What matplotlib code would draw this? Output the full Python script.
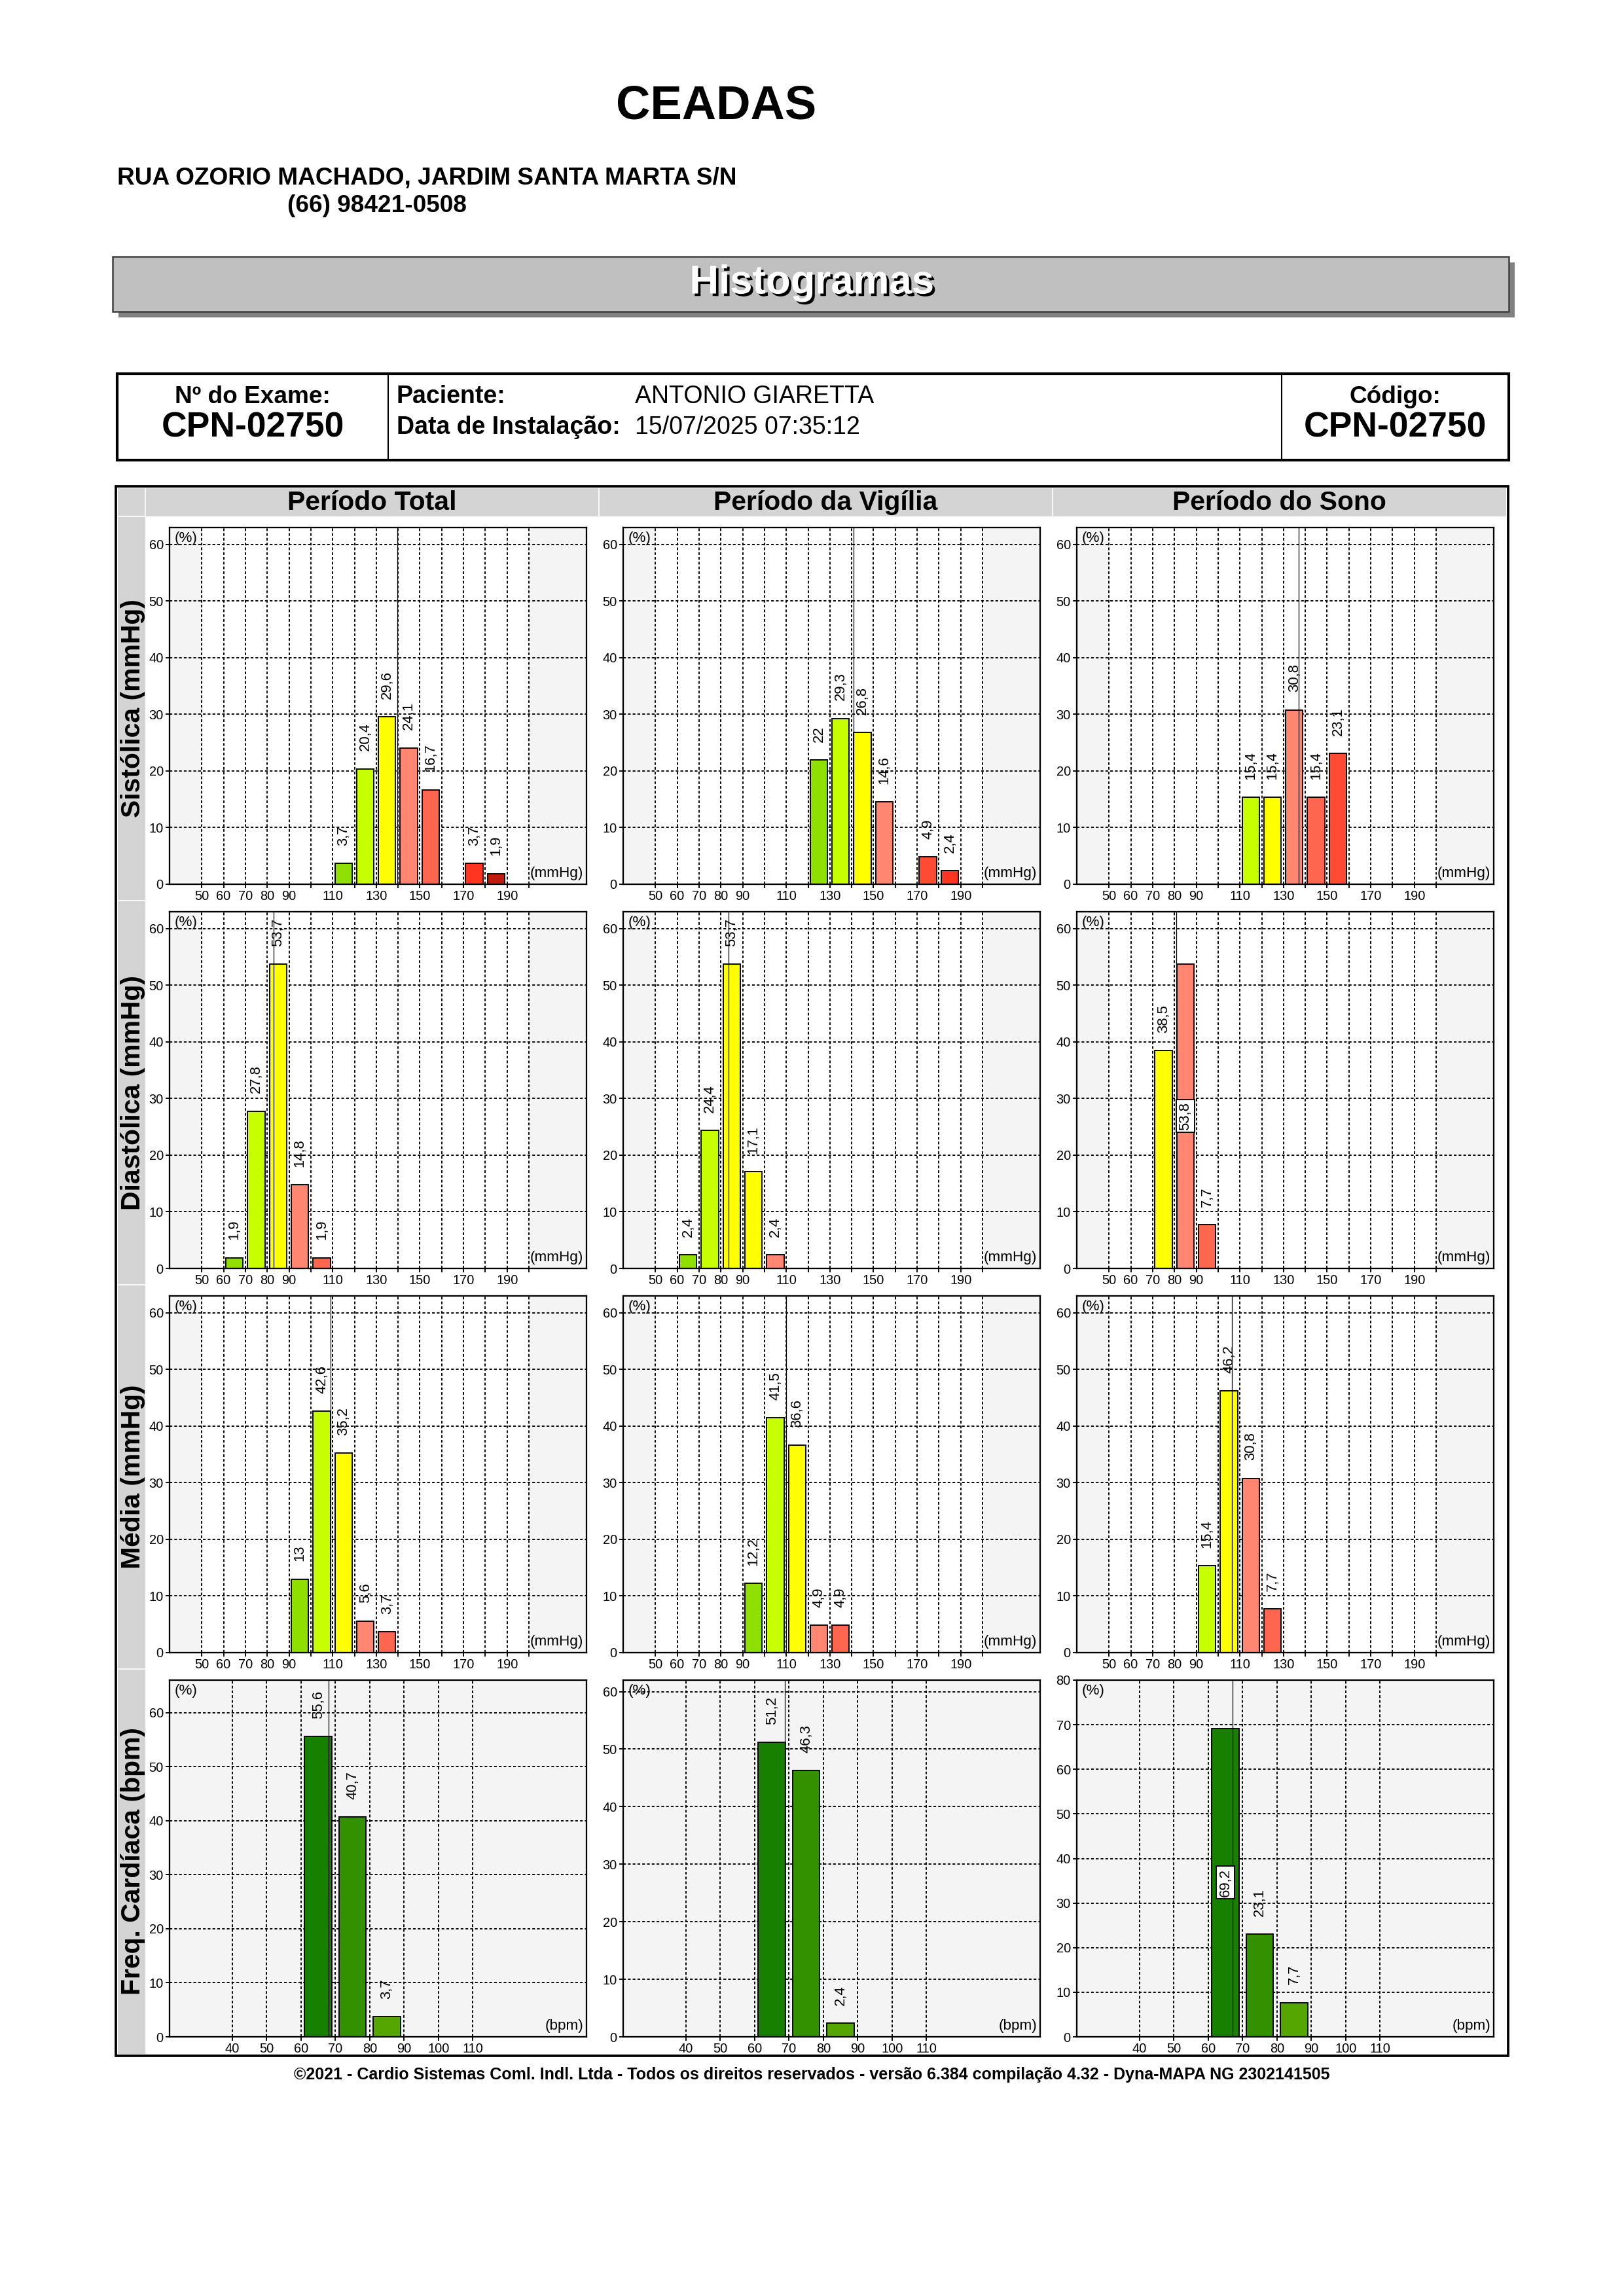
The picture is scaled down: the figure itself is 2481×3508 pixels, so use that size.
import numpy as np
import matplotlib
matplotlib.use('Agg')
import matplotlib.pyplot as plt
import matplotlib.patheffects as pe
from matplotlib.patches import Rectangle

# ---- report texts ----
clinic = 'CEADAS'
address = 'RUA OZORIO MACHADO, JARDIM SANTA MARTA S/N'
phone = '(66) 98421-0508'
exam_id = 'CPN-02750'
patient = 'ANTONIO GIARETTA'
install_date = '15/07/2025 07:35:12'
footer = ('©2021 - Cardio Sistemas Coml. Indl. Ltda - Todos os direitos reservados - '
          'versão 6.384 compilação 4.32 - Dyna-MAPA NG 2302141505')

periods = ['Período Total', 'Período da Vigília', 'Período do Sono']
measures = ['Sistólica (mmHg)', 'Diastólica (mmHg)', 'Média (mmHg)', 'Freq. Cardíaca (bpm)']

# ---- histogram data: class start (10 unit classes), % of readings, mean line ----
sys_bins = [[110, 120, 130, 140, 150, 170, 180],
            [120, 130, 140, 150, 170, 180],
            [110, 120, 130, 140, 150]]
sys_pct = [[3.7, 20.4, 29.6, 24.1, 16.7, 3.7, 1.9],
           [22, 29.3, 26.8, 14.6, 4.9, 2.4],
           [15.4, 15.4, 30.8, 15.4, 23.1]]
sys_mean = [139.8, 140.9, 137.1]

dia_bins = [[60, 70, 80, 90, 100],
            [60, 70, 80, 90, 100],
            [70, 80, 90]]
dia_pct = [[1.9, 27.8, 53.7, 14.8, 1.9],
           [2.4, 24.4, 53.7, 17.1, 2.4],
           [38.5, 53.8, 7.7]]
dia_mean = [82.9, 83.5, 80.8]

map_bins = [[90, 100, 110, 120, 130],
            [90, 100, 110, 120, 130],
            [90, 100, 110, 120]]
map_pct = [[13, 42.6, 35.2, 5.6, 3.7],
           [12.2, 41.5, 36.6, 4.9, 4.9],
           [15.4, 46.2, 30.8, 7.7]]
map_mean = [109.1, 109.9, 106.4]

hr_bins = [[60, 70, 80], [60, 70, 80], [60, 70, 80]]
hr_pct = [[55.6, 40.7, 3.7], [51.2, 46.3, 2.4], [69.2, 23.1, 7.7]]
hr_mean = [68.1, 68.7, 67.0]

# ---- colour classes of the bars (relative to the limit class) ----
bp_palette = {-2: '#8fe000', -1: '#c8ff00', 0: '#ffff00', 1: '#ff8670',
              2: '#ff6650', 3: '#ff4b33', 4: '#ff3421', 5: '#c11b10'}
hr_palette = ['#178000', '#339100', '#55a600']
sys_lvl = [[-2, -1, 0, 1, 2, 4, 5], [-2, -1, 0, 1, 3, 4], [-1, 0, 1, 2, 3]]
dia_lvl = [[-2, -1, 0, 1, 2], [-2, -1, 0, 0, 1], [0, 1, 2]]
map_lvl = [[-2, -1, 0, 1, 2], [-2, -1, 0, 1, 2], [-1, 0, 1, 2]]

# labels drawn boxed inside the bar (row, col) -> bar index
boxed = {(1, 2): 1, (3, 2): 0}

W, H = 2481, 3508
plt.rcParams['font.family'] = ['Liberation Sans', 'DejaVu Sans']
plt.rcParams['lines.scale_dashes'] = False

fig = plt.figure(figsize=(W / 300, H / 300), dpi=300)


def fx(x):
    return x / W


def fy(y):
    return 1 - y / H


def rect(x0, y0, x1, y1, **kw):
    fig.add_artist(Rectangle((fx(x0), fy(y1)), (x1 - x0) / W, (y1 - y0) / H,
                             transform=fig.transFigure, **kw))


def line(x0, y0, x1, y1, **kw):
    fig.add_artist(plt.Line2D([fx(x0), fx(x1)], [fy(y0), fy(y1)],
                              transform=fig.transFigure, **kw))


def txt(x, y, s, **kw):
    fig.text(fx(x), fy(y), s, **kw)


def fmt(v):
    s = ('%.1f' % v).rstrip('0').rstrip('.')
    return s.replace('.', ',')


# ---- header ----
txt(1094, 162, clinic, fontsize=17.4, fontweight='bold', ha='center', va='center')
txt(179, 272, address, fontsize=8.9, fontweight='bold', ha='left', va='center')
txt(439, 314, phone, fontsize=8.9, fontweight='bold', ha='left', va='center')

rect(181, 401, 2314, 485, facecolor='#808080', edgecolor='none')
rect(172, 392, 2305, 476, facecolor='#c0c0c0', edgecolor='#404040', lw=0.6)
txt(1240, 433, 'Histogramas', fontsize=14.8, fontweight='bold', color='white',
    ha='center', va='center',
    path_effects=[pe.withSimplePatchShadow(offset=(0.9, -0.9), shadow_rgbFace='black', alpha=1)])

# ---- identification box ----
rect(179, 571, 2305, 703, facecolor='none', edgecolor='black', lw=1.0)
line(593, 571, 593, 703, color='black', lw=0.5)
line(1958, 571, 1958, 703, color='black', lw=0.5)
txt(386, 606, 'Nº do Exame:', fontsize=8.9, fontweight='bold', ha='center', va='center')
txt(386, 653, exam_id, fontsize=12.8, fontweight='bold', ha='center', va='center')
txt(606, 606, 'Paciente:', fontsize=9, fontweight='bold', ha='left', va='center')
txt(970, 606, patient, fontsize=9, ha='left', va='center')
txt(606, 653, 'Data de Instalação:', fontsize=9, fontweight='bold', ha='left', va='center')
txt(970, 653, install_date, fontsize=9, ha='left', va='center')
txt(2131, 606, 'Código:', fontsize=8.9, fontweight='bold', ha='center', va='center')
txt(2131, 653, exam_id, fontsize=12.8, fontweight='bold', ha='center', va='center')

# ---- histogram frame ----
col_edges = [222, 915, 1608, 2301]
row_edges = [789, 1376, 1963, 2550, 3138]
rect(222, 746, 2301, 789, facecolor='#d4d4d4', edgecolor='none')
rect(180, 746, 222, 3138, facecolor='#d4d4d4', edgecolor='none')
line(222, 746, 222, 789, color='white', lw=0.4)
line(180, 789, 222, 789, color='white', lw=0.4)
for c in col_edges[1:-1]:
    line(c, 746, c, 789, color='white', lw=0.4)
for r in row_edges[1:-1]:
    line(180, r, 222, r, color='white', lw=0.4)
rect(177, 743, 2304, 3141, facecolor='none', edgecolor='black', lw=0.9, zorder=10)

for j, name in enumerate(periods):
    txt((col_edges[j] + col_edges[j + 1]) / 2, 768, name, fontsize=9.8,
        fontweight='bold', ha='center', va='center')
for i, name in enumerate(measures):
    txt(203, (row_edges[i] + row_edges[i + 1]) / 2, name, fontsize=9.8,
        fontweight='bold', ha='center', va='center', rotation=90)

# ---- panels ----
ax_x0 = [259, 952, 1645]
ax_y0 = [806, 1393, 1980, 2567]
AW, AH = 637, 545
dash = (0, (1.0, 0.75))
bp_labels = [50, 60, 70, 80, 90, 110, 130, 150, 170, 190]
hr_ylim = [66, 62, 80]

rows_data = [(sys_bins, sys_pct, sys_mean, sys_lvl),
             (dia_bins, dia_pct, dia_mean, dia_lvl),
             (map_bins, map_pct, map_mean, map_lvl),
             (hr_bins, hr_pct, hr_mean, None)]

for i, (bins_r, pct_r, mean_r, lvl_r) in enumerate(rows_data):
    for j in range(3):
        ax = fig.add_axes([fx(ax_x0[j]), fy(ax_y0[i] + AH), AW / W, AH / H])
        ax.set_facecolor('#f4f4f4')
        bins = np.array(bins_r[j])
        pct = np.array(pct_r[j], dtype=float)
        if lvl_r is not None:
            ax.set_xlim(35.2, 226.4)
            ax.set_ylim(0, 63)
            ax.axvspan(50, 200, color='white', lw=0, zorder=0)
            gx = np.arange(50, 201, 10)
            ax.set_xticks(gx)
            ax.set_xticklabels([str(v) if v in bp_labels else '' for v in gx])
            colors = [bp_palette[k] for k in lvl_r[j]]
            unit = '(mmHg)'
        else:
            ax.set_xlim(21.7, 143.1)
            ax.set_ylim(0, hr_ylim[j])
            gx = np.arange(40, 111, 10)
            ax.set_xticks(gx)
            ax.set_xticklabels([str(v) for v in gx])
            colors = hr_palette[:len(bins)]
            unit = '(bpm)'
        gy = np.arange(0, ax.get_ylim()[1] + 0.01, 10)
        ax.set_yticks(gy)
        for v in gx:
            ax.axvline(v, color='black', lw=0.45, ls=dash, zorder=1)
        for v in gy[1:]:
            ax.axhline(v, color='black', lw=0.45, ls=dash, zorder=1)

        ax.bar(bins + 1, pct, width=7.9, align='edge', color=colors,
               edgecolor='black', lw=0.45, zorder=2)
        ax.axvline(mean_r[j], color='black', lw=0.3, zorder=3)

        for k, (b, v) in enumerate(zip(bins, pct)):
            if boxed.get((i, j)) == k:
                ax.text(b + 5, v / 2, fmt(v), rotation=90, ha='center', va='center',
                        fontsize=5.3, zorder=5,
                        bbox=dict(boxstyle='square,pad=0.15', fc='white', ec='black', lw=0.45))
            else:
                ax.annotate(fmt(v), (b + 5, v), xytext=(0, 6.5), textcoords='offset points',
                            rotation=90, ha='center', va='bottom', fontsize=5.3, zorder=5)

        ax.annotate('(%)', (0, 1), xycoords='axes fraction', xytext=(1.8, -1.4),
                    textcoords='offset points', ha='left', va='top', fontsize=5.4, zorder=6)
        ax.annotate(unit, (1, 0), xycoords='axes fraction', xytext=(-1.2, 1.4),
                    textcoords='offset points', ha='right', va='bottom', fontsize=5.4, zorder=6)

        ax.tick_params(axis='both', direction='out', length=1.4, width=0.45,
                       labelsize=4.8, pad=0.8)
        for s in ax.spines.values():
            s.set_linewidth(0.55)
            s.set_zorder(4)

txt(1240, 3170, footer, fontsize=6.0, fontweight='bold', ha='center', va='center')

fig.savefig('out.png', dpi=300, facecolor='white')
